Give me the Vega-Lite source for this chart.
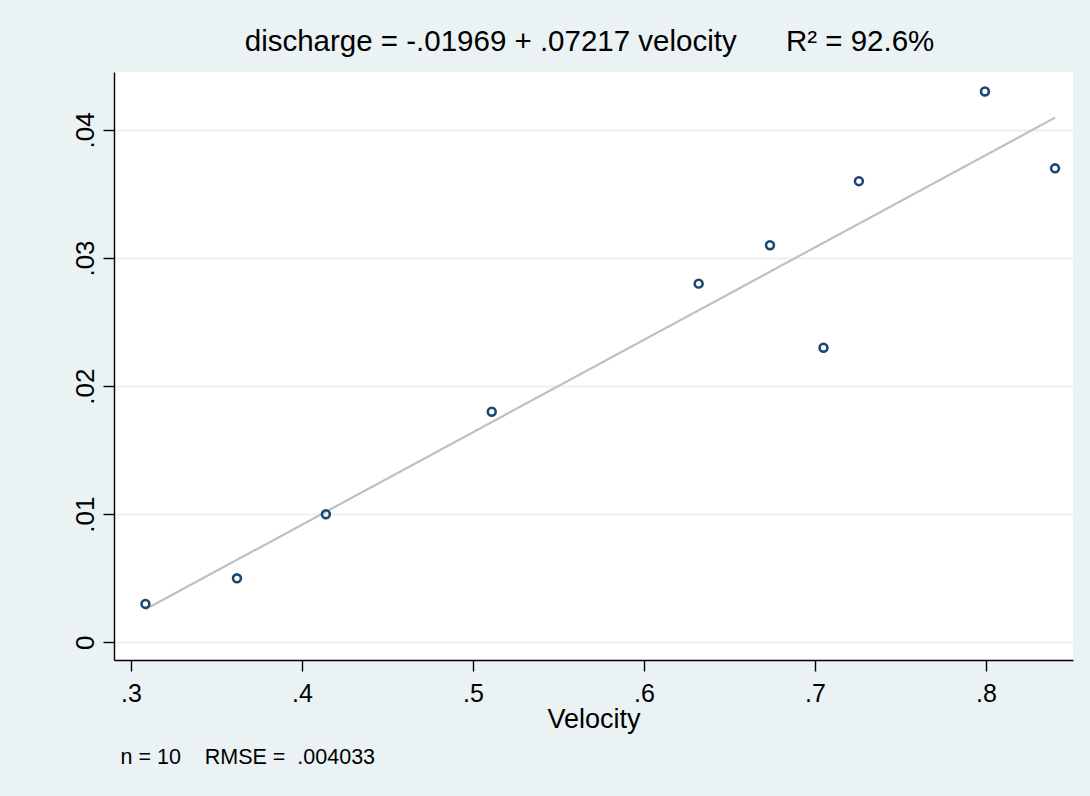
{
  "$schema": "https://vega.github.io/schema/vega-lite/v6.json",
  "width": 959,
  "height": 588,
  "autosize": {"type": "none"},
  "padding": {"left": 114, "top": 72, "right": 17, "bottom": 136},
  "background": "#eaf2f3",
  "config": {
    "view": {"fill": "white", "stroke": null},
    "font": "Liberation Sans",
    "axis": {"labelFont": "Liberation Sans", "titleFont": "Liberation Sans", "labelColor": "black", "titleColor": "black", "domainColor": "black", "tickColor": "black", "titleFontWeight": "normal"}
  },
  "title": {
    "text": "discharge = -.01969 + .07217 velocity\u00a0\u00a0\u00a0\u00a0\u00a0\u00a0R² = 92.6%",
    "orient": "top",
    "anchor": "middle",
    "frame": "group",
    "fontSize": 29.5,
    "fontWeight": "normal",
    "font": "Liberation Sans",
    "color": "black",
    "baseline": "alphabetic",
    "offset": -8,
    "dx": -4
  },
  "datasets": {
    "obs": [
      {"velocity": 0.3085, "discharge": 0.003},
      {"velocity": 0.362, "discharge": 0.005},
      {"velocity": 0.414, "discharge": 0.010},
      {"velocity": 0.511, "discharge": 0.018},
      {"velocity": 0.632, "discharge": 0.028},
      {"velocity": 0.6737, "discharge": 0.031},
      {"velocity": 0.705, "discharge": 0.023},
      {"velocity": 0.7257, "discharge": 0.036},
      {"velocity": 0.7994, "discharge": 0.043},
      {"velocity": 0.8404, "discharge": 0.037}
    ],
    "fit": [
      {"velocity": 0.3085, "fitted": 0.002575},
      {"velocity": 0.8404, "fitted": 0.04096}
    ]
  },
  "layer": [
    {
      "data": {"name": "fit"},
      "mark": {"type": "line", "color": "#c0c0c0", "strokeWidth": 2.2},
      "encoding": {
        "x": {"field": "velocity", "type": "quantitative",
          "scale": {"domain": [0.2901, 0.8509], "nice": false, "zero": false},
          "axis": {"orient": "bottom", "labels": false, "ticks": false, "domain": false, "grid": false,
            "title": "n = 10\u00a0\u00a0\u00a0\u00a0RMSE =\u00a0\u00a0.004033", "titleAnchor": "start", "titleAlign": "left",
            "titleX": 6, "titleY": 103, "titleBaseline": "alphabetic", "titleFontSize": 21.5, "titleFontWeight": "normal"}},
        "y": {"field": "fitted", "type": "quantitative",
          "scale": {"domain": [-0.00138, 0.04452], "nice": false, "zero": false},
          "axis": null}
      }
    },
    {
      "data": {"name": "obs"},
      "mark": {"type": "point", "shape": "circle", "filled": false, "stroke": "#1a476f", "strokeWidth": 2.6, "size": 62, "opacity": 1},
      "encoding": {
        "x": {"field": "velocity", "type": "quantitative",
          "scale": {"domain": [0.2901, 0.8509], "nice": false, "zero": false},
          "axis": {"orient": "bottom", "title": "Velocity", "values": [0.3, 0.4, 0.5, 0.6, 0.7, 0.8],
            "labelExpr": "replace(format(datum.value, '.1f'), '0.', '.')",
            "grid": false, "tickSize": 11, "labelFontSize": 25, "labelPadding": 10,
            "titleFontSize": 27, "titlePadding": 0, "domainWidth": 1.4, "tickWidth": 1.4}},
        "y": {"field": "discharge", "type": "quantitative",
          "scale": {"domain": [-0.00138, 0.04452], "nice": false, "zero": false},
          "axis": {"orient": "left", "title": null, "values": [0, 0.01, 0.02, 0.03, 0.04],
            "labelExpr": "datum.value == 0 ? '0' : replace(format(datum.value, '.2f'), '0.', '.')",
            "grid": true, "gridColor": "#eaf2f3", "gridWidth": 1.8,
            "tickSize": 11, "labelFontSize": 26, "labelAngle": -90, "labelAlign": "center",
            "labelBaseline": "alphabetic", "labelPadding": 10, "domainWidth": 1.4, "tickWidth": 1.4}}
      }
    }
  ],
  "resolve": {"axis": {"x": "independent", "y": "independent"}}
}
